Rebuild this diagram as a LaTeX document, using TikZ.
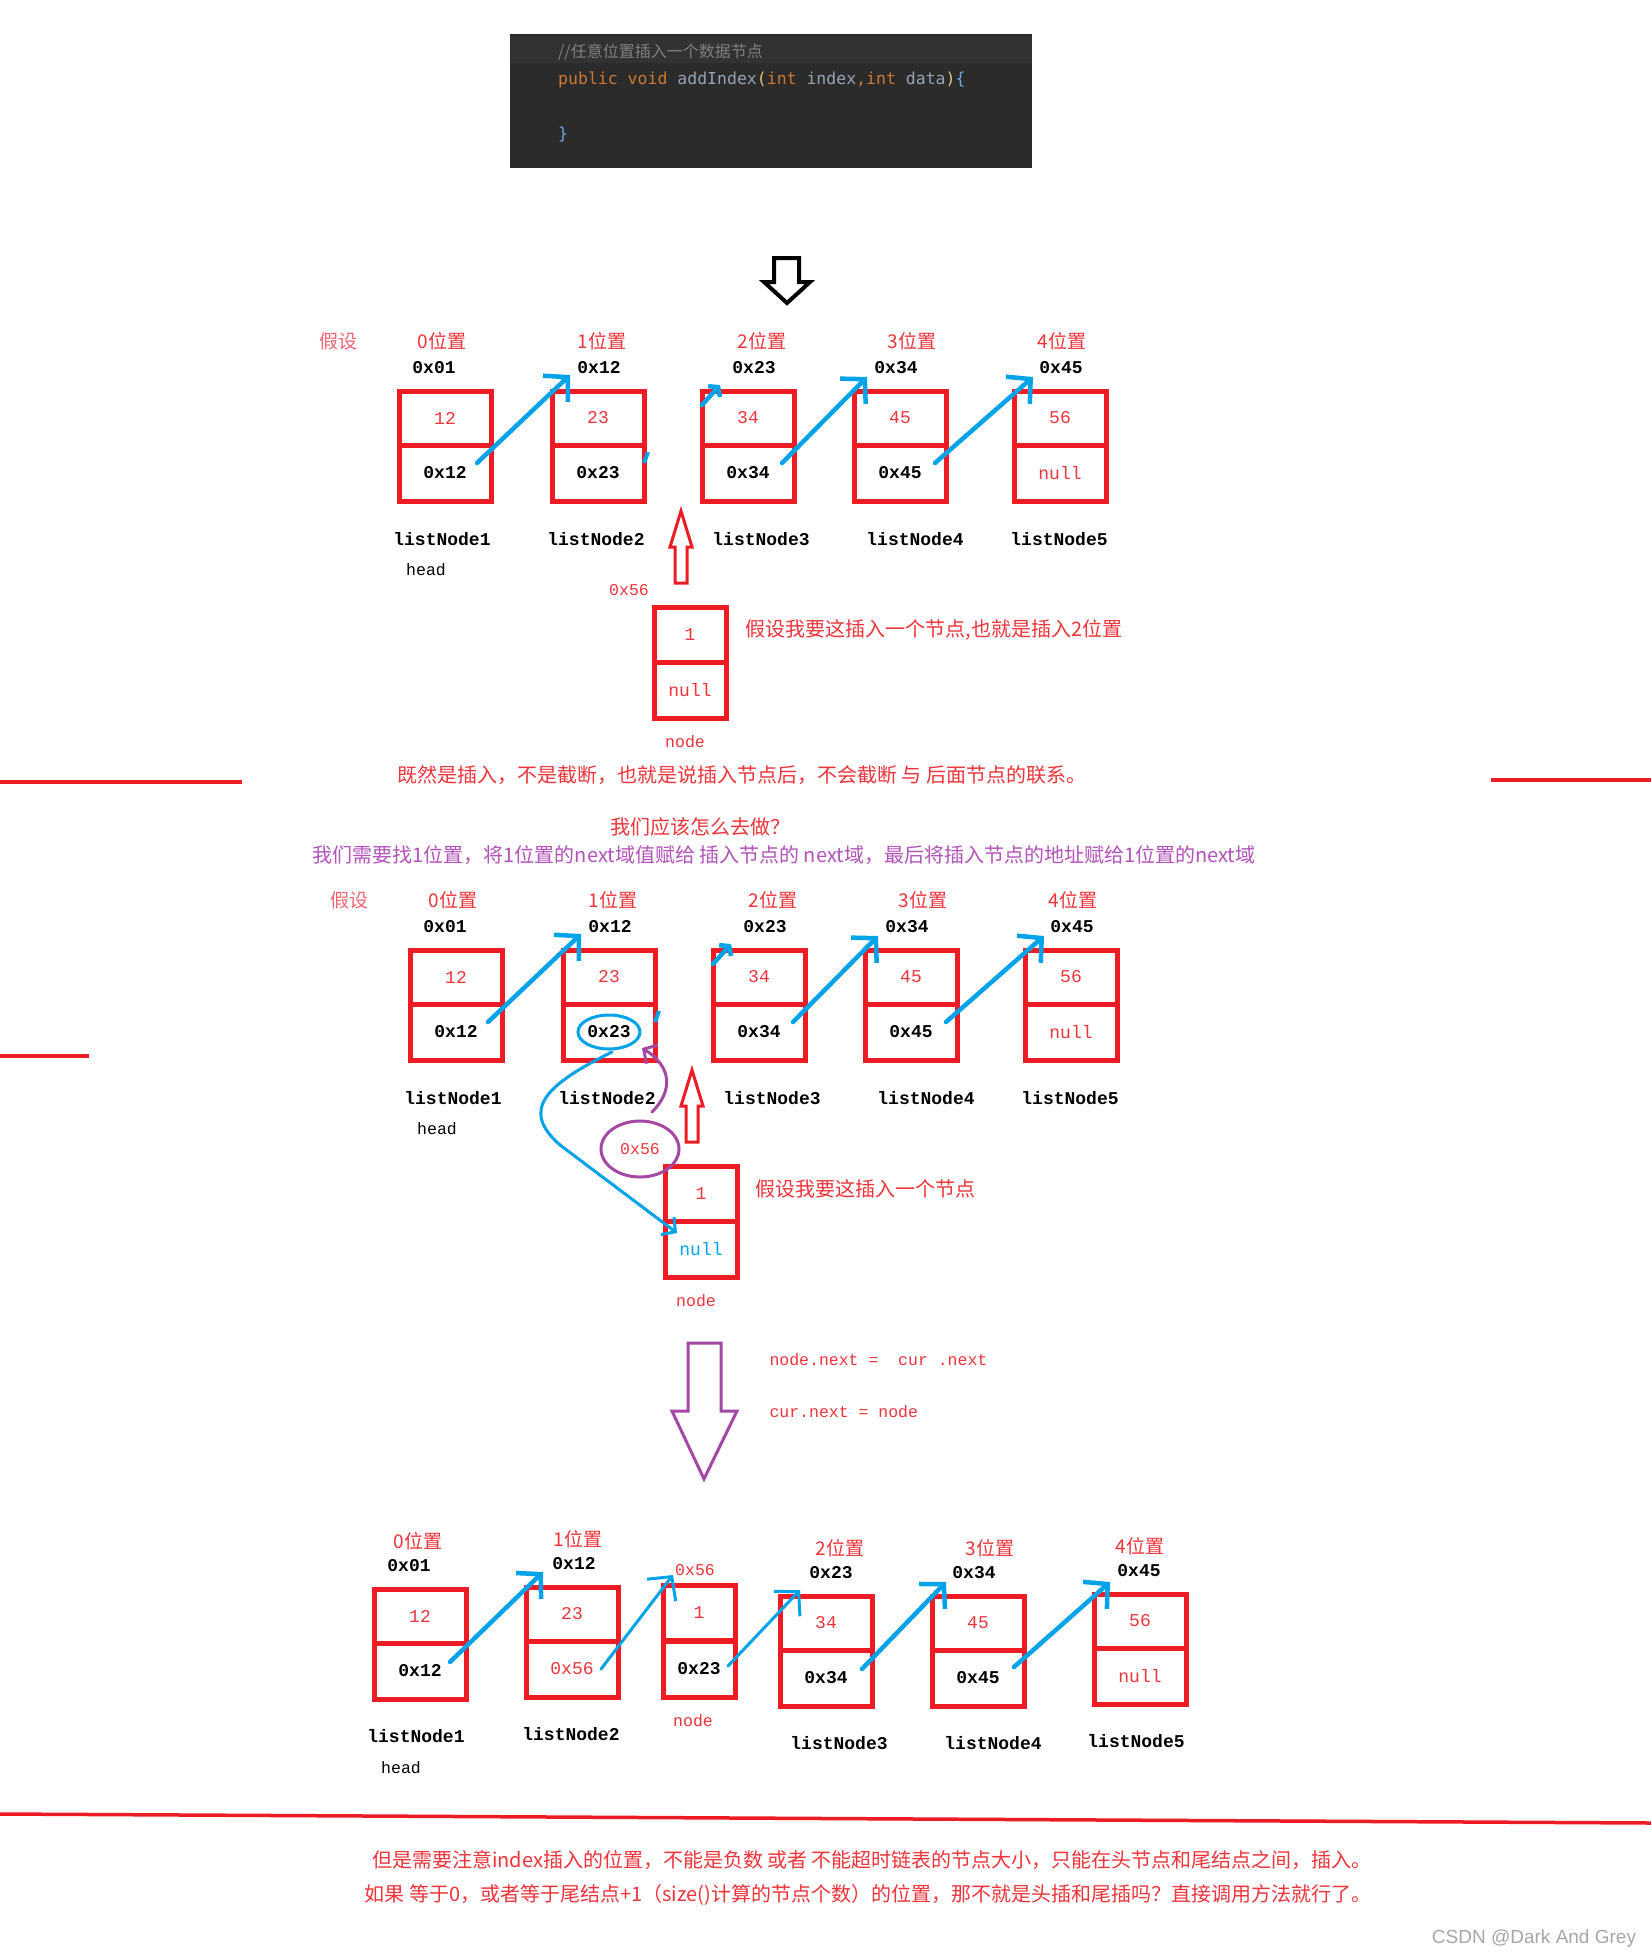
\documentclass[tikz,border=0pt]{standalone}
\usepackage{fontspec}
\setmainfont{Liberation Serif}
\newfontfamily\cjk{Noto Sans CJK SC}
\newfontfamily\mono{Liberation Mono}
\newfontfamily\code{DejaVu Sans Mono}
\newfontfamily\wmark{Liberation Sans}
\usepackage{tikz}
\usetikzlibrary{arrows.meta,calc}
\definecolor{boxred}{RGB}{237,28,36}
\definecolor{txtred}{RGB}{238,52,58}
\definecolor{lightred}{RGB}{242,100,110}
\definecolor{ptrblue}{RGB}{0,162,232}
\definecolor{paintpurple}{RGB}{163,73,164}
\definecolor{hintpurple}{RGB}{178,82,186}
\definecolor{codebg}{RGB}{43,43,43}
\definecolor{codeband}{RGB}{50,50,52}
\definecolor{kwcol}{RGB}{204,120,50}
\definecolor{idcol}{RGB}{150,163,180}
\definecolor{brcol}{RGB}{224,196,122}
\definecolor{cbcol}{RGB}{110,168,220}
\definecolor{cmtcol}{RGB}{128,128,128}

\begin{document}
\begin{tikzpicture}[x=1pt, y=-1pt,
    field/.style={draw=boxred, line width=5pt, inner sep=0pt, minimum width=92},
    poslbl/.style={text=txtred, font=\cjk\fontsize{19}{21}\selectfont},
    addr/.style={font=\mono\bfseries\fontsize{18}{20}\selectfont},
    lname/.style={font=\mono\bfseries\fontsize{18}{20}\selectfont},
    redval/.style={text=txtred, font=\mono\fontsize{18}{20}\selectfont},
    blackval/.style={text=black, font=\mono\bfseries\fontsize{18}{20}\selectfont},
    smalltxt/.style={font=\mono\fontsize{16.5}{18}\selectfont},
    note/.style={text=txtred, font=\cjk\fontsize{20}{22}\selectfont},
    ptr/.style={draw=ptrblue, line width=4.5pt, line cap=round, -{Straight Barb[length=17pt,width=36pt]}},
    thinptr/.style={ptr, line width=3pt},
    hollow/.style={draw=boxred, line width=3pt}]
    \useasboundingbox (0,0) rectangle (1651,1959);
    \fill[white] (0,0) rectangle (1651,1959);

    % code snippet
    \fill[codebg] (510,34) rectangle (1032,168);
    \fill[codeband] (510,37) rectangle (1032,63);
    \node[anchor=west, inner sep=0pt, text=cmtcol, font=\cjk\fontsize{16}{18}\selectfont] (cmt) at (558,52) {//任意位置插入一个数据节点};
    \node[anchor=west, inner sep=0pt, font=\code\fontsize{16.5}{18}\selectfont] (sig) at (558,80)
        {\textcolor{kwcol}{public void }\textcolor{idcol}{addIndex}\textcolor{brcol}{(}\textcolor{kwcol}{int }\textcolor{idcol}{index}\textcolor{kwcol}{,int }\textcolor{idcol}{data}\textcolor{brcol}{)}\textcolor{cbcol}{\{}};
    \node[anchor=west, inner sep=0pt, text=cbcol, font=\code\fontsize{16.5}{18}\selectfont] (cls) at (558,135) {\}};
    \draw[line width=4pt] (774,258) -- (799,258) -- (799,282) -- (810,282) -- (787,303) -- (764,282) -- (774,282) -- cycle;

    % first two rows
    \foreach \r/\sx/\sy/\nc in {1/0/0/txtred, 2/11/559/ptrblue} {
      \begin{scope}[shift={(\sx,\sy)}]
        \node[poslbl, text=lightred] (sup\r) at (338,341) {假设};
        \foreach \i/\pn/\cx/\px/\ax/\av/\nx/\dv/\nv/\nst in {
            1/0/445/442/434/0x01/442/12/0x12/blackval,
            2/1/598/602/599/0x12/596/23/0x23/blackval,
            3/2/748/762/754/0x23/761/34/0x34/blackval,
            4/3/900/912/896/0x34/915/45/0x45/blackval,
            5/4/1060/1062/1061/0x45/1059/56/null/redval} {
          \node[field, minimum height=54, redval] (n\r\i) at (\cx,418) {\dv};
          \node[field, minimum height=56, \nst] (m\r\i) at (\cx,473) {\nv};
          \node[poslbl] (p\r\i) at (\px,341) {\pn{}位置};
          \node[addr] (a\r\i) at (\ax,368) {\av};
          \node[lname] (l\r\i) at (\nx,539) {listNode\i};
        }
        \node[smalltxt] (hd\r) at (426,570) {head};
        \foreach \i/\xa/\ya/\xb/\yb in {1/477/463/570/375, 3/782/463/867/377, 4/935/463/1033/377} {
          \coordinate (s\r\i) at (\xa,\ya);
          \coordinate (t\r\i) at (\xb,\yb);
          \draw[ptr] (s\r\i) -- (t\r\i);
        }
        % the link that gets cut
        \coordinate (s\r2) at (644,463);
        \coordinate (u\r2) at (648,452);
        \coordinate (v\r2) at (702,405);
        \coordinate (t\r2) at (720,385);
        \draw[draw=ptrblue, line width=4pt] (s\r2) -- (u\r2);
        \draw[ptr, -{Straight Barb[length=6pt,width=16pt]}] (v\r2) -- (t\r2);
        % new node
        \node[field, minimum width=72, minimum height=55, redval] (in\r) at (690,635) {1};
        \node[field, minimum width=72, minimum height=56, text=\nc, font=\mono\fontsize{18}{20}\selectfont] (im\r) at (690,690) {null};
        \node[smalltxt, text=txtred] (adr\r) at (629,590) {0x56};
        \node[smalltxt, text=txtred] (lab\r) at (685,742) {node};
        \draw[hollow] (675,583) -- (675,547) -- (670,547) -- (681,511) -- (692,547) -- (687,547) -- (687,583) -- cycle;
      \end{scope}
    }
    \node[note, anchor=west] (say1) at (742,630) {假设我要这插入一个节点,也就是插入2位置};
    \node[note, anchor=west] (say2) at (752,1189) {假设我要这插入一个节点};

    \draw[boxred, line width=4.5pt] (0,782) -- (242,782);
    \draw[boxred, line width=4.5pt] (1491,780) -- (1651,780);
    \draw[boxred, line width=4pt] (0,1056) -- (89,1056);
    \node[note] (why) at (742,775) {既然是插入，不是截断，也就是说插入节点后，不会截断 与 后面节点的联系。};
    \node[note] (ask) at (700,827) {我们应该怎么去做？};
    \node[note, text=hintpurple] (how) at (784,855) {我们需要找1位置，将1位置的next域值赋给 插入节点的 next域，最后将插入节点的地址赋给1位置的next域};

    % how the pointers move
    \draw[ptrblue, line width=3pt] (m22.center) ellipse [x radius=31, y radius=17];
    \draw[paintpurple, line width=3pt] (adr2.center) ellipse [x radius=39, y radius=28];
    \coordinate (pu1) at (652,1112);
    \coordinate (pu2) at (642,1048);
    \draw[paintpurple, line width=3pt, line cap=round, -{Straight Barb[length=10pt,width=22pt]}]
        (pu1) .. controls (674,1090) and (671,1066) .. (pu2);
    \coordinate (bl1) at (612,1052);
    \coordinate (bl2) at (677,1233);
    \draw[ptrblue, line width=3pt, line cap=round, -{Straight Barb[length=10pt,width=22pt]}]
        (bl1) .. controls (545,1085) and (520,1110) .. (560,1145) -- (bl2);

    \draw[paintpurple, line width=3pt] (688,1343) -- (721,1343) -- (721,1411) -- (737,1411) -- (704,1479) -- (672,1411) -- (688,1411) -- cycle;
    \node[smalltxt, text=txtred, anchor=west] (eq1) at (766,1360) {node.next = \ cur .next};
    \node[smalltxt, text=txtred, anchor=west] (eq2) at (766,1412) {cur.next = node};

    % result row
    \foreach \i/\pn/\cx/\ty/\px/\ax/\av/\nx/\dv/\nv/\nst in {
        1/0/420/1616/418/409/0x01/416/12/0x12/blackval,
        2/1/572/1614/578/574/0x12/571/23/0x56/redval,
        3/2/826/1623/840/831/0x23/839/34/0x34/blackval,
        4/3/978/1623/990/974/0x34/993/45/0x45/blackval,
        5/4/1140/1621/1140/1139/0x45/1136/56/null/redval} {
      \node[field, minimum height=54, redval] (n3\i) at (\cx,\ty) {\dv};
      \node[field, minimum height=56, \nst] (m3\i) at ({\cx},{\ty+55}) {\nv};
      \node[poslbl] (p3\i) at ({\px},{\ty-75}) {\pn{}位置};
      \node[addr] (a3\i) at ({\ax},{\ty-50}) {\av};
      \node[lname] (l3\i) at ({\nx},{\ty+120}) {listNode\i};
    }
    \node[smalltxt] (hd3) at (401,1768) {head};
    \node[field, minimum width=72, minimum height=55, redval] (n3x) at (699,1613) {1};
    \node[field, minimum width=72, minimum height=56, blackval] (m3x) at (699,1669) {0x23};
    \node[smalltxt, text=txtred] (a3x) at (695,1570) {0x56};
    \node[smalltxt, text=txtred] (l3x) at (693,1721) {node};
    \foreach \i/\xa/\ya/\xb/\yb/\st in {1/450/1662/543/1572/ptr, 2/601/1669/673/1575/thinptr,
        3/728/1666/800/1590/thinptr, 4/862/1669/946/1582/ptr, 5/1014/1667/1110/1582/ptr} {
      \coordinate (s3\i) at (\xa,\ya);
      \coordinate (t3\i) at (\xb,\yb);
      \draw[\st] (s3\i) -- (t3\i);
    }

    \draw[boxred, line width=3.5pt] (0,1814) -- (1651,1823);
    \node[note] (warn1) at (872,1860) {但是需要注意index插入的位置，不能是负数 或者 不能超时链表的节点大小，只能在头节点和尾结点之间，插入。};
    \node[note] (warn2) at (868,1895) {如果 等于0，或者等于尾结点+1（size()计算的节点个数）的位置，那不就是头插和尾插吗？直接调用方法就行了。};
    \node[text=gray!70, font=\wmark\fontsize{19}{21}\selectfont] (wm) at (1534,1939) {CSDN @Dark And Grey};
\end{tikzpicture}
\end{document}
